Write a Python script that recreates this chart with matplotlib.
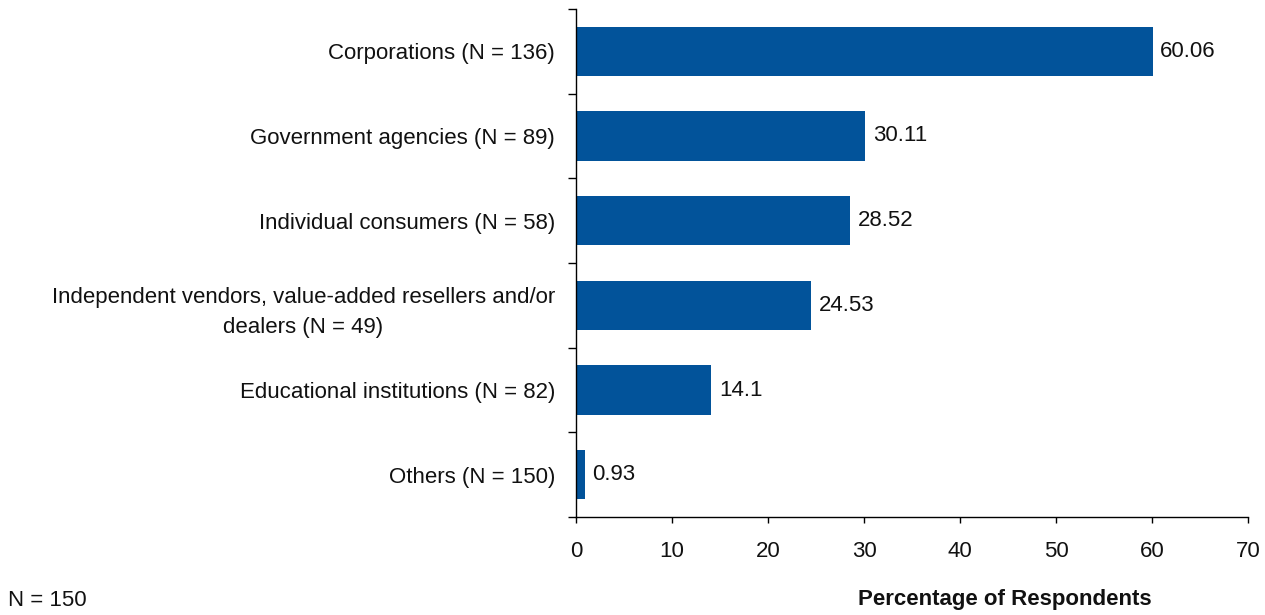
import matplotlib.pyplot as plt
import numpy as np

plt.rcParams['font.family'] = ['Liberation Sans', 'DejaVu Sans']

categories = [
    'Corporations (N = 136)',
    'Government agencies (N = 89)',
    'Individual consumers (N = 58)',
    'Independent vendors, value-added resellers and/or\ndealers (N = 49)',
    'Educational institutions (N = 82)',
    'Others (N = 150)',
]
values = [60.06, 30.11, 28.52, 24.53, 14.1, 0.93]
value_labels = ['60.06', '30.11', '28.52', '24.53', '14.1', '0.93']
xticks = [0, 10, 20, 30, 40, 50, 60, 70]

bar_color = '#02539A'
fs = 16

fig = plt.figure(figsize=(12.65, 6.15), dpi=100)
ax = fig.add_axes([0.4553, 0.1593, 0.5313, 0.8261])

y = np.arange(len(categories))
ax.barh(y, values, height=0.58, color=bar_color)
ax.set_ylim(len(categories) - 0.5, -0.5)
ax.set_xlim(0, 70)

for yi, v, lab in zip(y, values, value_labels):
    ax.text(v + 0.8, yi, lab, va='center', ha='left', fontsize=fs, color='#111111')

ax.set_yticks(y)
ax.set_yticklabels(categories, fontsize=fs, multialignment='center', color='#111111',
                   linespacing=1.55)
ax.tick_params(axis='y', which='major', length=0, pad=15)
ax.set_yticks(np.arange(len(categories) + 1) - 0.5, minor=True)
ax.tick_params(axis='y', which='minor', length=6, width=1, direction='out')

ax.set_xticks(xticks)
ax.set_xticklabels([str(t) for t in xticks], fontsize=fs, color='#111111')
ax.tick_params(axis='x', length=4, width=1, pad=13)

for side in ['top', 'right']:
    ax.spines[side].set_visible(False)
for side in ['left', 'bottom']:
    ax.spines[side].set_linewidth(1)

fig.text(1005 / 1265, 1 - 600 / 615, 'Percentage of Respondents', ha='center', va='center',
         fontsize=fs, fontweight='bold', color='#111111')
fig.text(8 / 1265, 1 - 601 / 615, 'N = 150', ha='left', va='center', fontsize=fs,
         color='#111111')

fig.savefig('out.png', dpi=100)
